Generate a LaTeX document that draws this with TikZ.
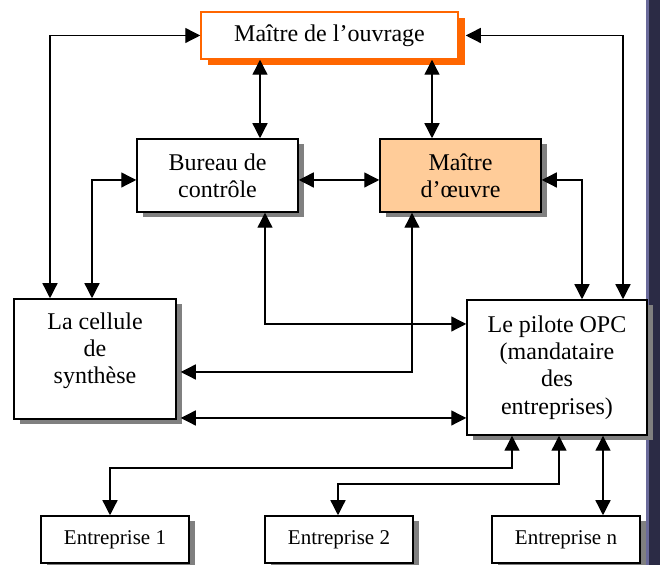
\documentclass[tikz,border=0pt]{standalone}
\usepackage{fontspec}
\setmainfont{Liberation Serif}
\usetikzlibrary{arrows.meta,shadows,positioning}
\definecolor{orangemo}{HTML}{FF6600}
\definecolor{peche}{HTML}{FFCC99}
\definecolor{ombre}{HTML}{808080}
\definecolor{bande}{HTML}{2B2B45}
\definecolor{bandeclair}{HTML}{6A6A9A}

\begin{document}
\begin{tikzpicture}[x=0.5pt,y=-0.5pt,
	cadre/.style={draw=black,line width=0.75pt,fill=white,inner sep=0pt,align=center,
		font=\fontsize{12}{13.6}\selectfont},
	boite/.style={cadre,drop shadow={shadow xshift=3pt,shadow yshift=-2.75pt,fill=ombre,opacity=1}},
	boiteorange/.style={cadre,draw=orangemo,drop shadow={shadow xshift=3.5pt,shadow yshift=-3pt,fill=orangemo,opacity=1}},
	entreprise/.style={boite,minimum width=74pt,minimum height=23.5pt,font=\fontsize{10.5}{12}\selectfont},
	lien/.style={line width=0.65pt,{Triangle[length=7.5pt,width=7.5pt]}-{Triangle[length=7.5pt,width=7.5pt]}}]
	\useasboundingbox (0,0) rectangle (660,565);
	% bande sombre a droite
	\fill[bande] (647,0) rectangle (660,565);
	\fill[bandeclair] (646,0) rectangle (648.5,565);
	% les acteurs
	\node[boiteorange,minimum width=128.5pt,minimum height=23.5pt] (mo) at (329.5,35.5) {Maître de l’ouvrage};
	\node[boite,minimum width=80.5pt,minimum height=36.5pt] (bc) at (217.5,175.5) {Bureau de\\contrôle};
	\node[boite,fill=peche,minimum width=80.5pt,minimum height=36.5pt] (moe) at (460.5,175.5) {Maître\\d’œuvre};
	\node[boite,minimum width=81pt,minimum height=60pt] (cs) at (95,359) {};
	\node[below=7pt of cs.north,align=center,inner sep=0pt,font=\fontsize{12}{13.6}\selectfont] (cst) {La cellule\\de\\synthèse};
	\node[boite,minimum width=90pt,minimum height=67.5pt] (opc) at (557,367.5) {Le pilote OPC\\(mandataire\\des\\entreprises)};
	\node[entreprise] (e1) at (115,539.5) {Entreprise 1};
	\node[entreprise] (e2) at (339,539.5) {Entreprise 2};
	\node[entreprise] (en) at (566,539.5) {Entreprise n};
	% liaisons
	\draw[lien] (mo.west) -| (cs.north -| 50,0);
	\draw[lien] ([xshift=3.5pt]mo.east) -| (opc.north -| 623,0);
	\draw[lien] (mo.south -| 260,0) -- (bc.north -| 260,0);
	\draw[lien] (mo.south -| 432,0) -- (moe.north -| 432,0);
	\draw[lien] (bc.west |- 0,180) -| (cs.north -| 92,0);
	\draw[lien] (bc.east |- 0,180) -- (moe.west |- 0,180);
	\draw[lien] (moe.east |- 0,180) -| (opc.north -| 582,0);
	\draw[lien] (bc.south -| 265,0) |- (opc.west |- 0,324);
	\draw[lien] (moe.south -| 412,0) |- ([xshift=2pt]cs.east |- 0,372);
	\draw[lien] ([xshift=2pt]cs.east |- 0,418) -- (opc.west |- 0,418);
	\draw[lien] (opc.south -| 512,0) |- (110,468) -- (e1.north -| 110,0);
	\draw[lien] (opc.south -| 559,0) |- (338,484) -- (e2.north -| 338,0);
	\draw[lien] (opc.south -| 603,0) -- (en.north -| 603,0);
\end{tikzpicture}
\end{document}
